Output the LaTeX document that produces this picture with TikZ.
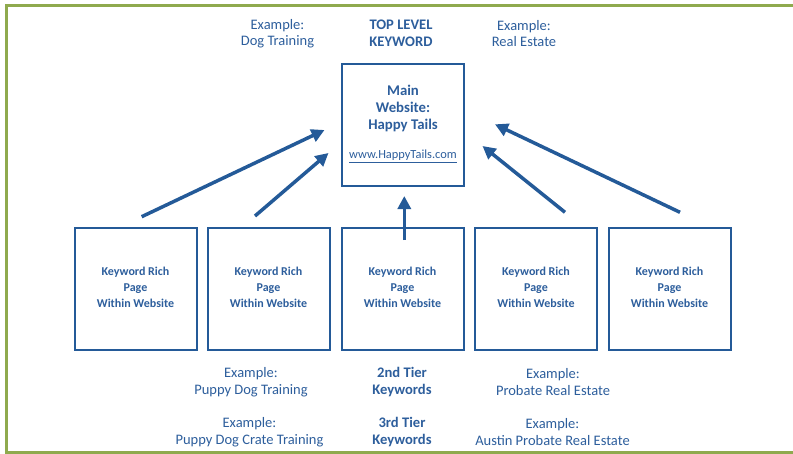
\documentclass[tikz,border=0pt]{standalone}
\usepackage{fontspec}
\setmainfont{Carlito}
\usetikzlibrary{arrows.meta}
\definecolor{kblue}{HTML}{245A98}
\definecolor{ktext}{HTML}{2D5E9C}
\definecolor{kgreen}{HTML}{8FAA4E}
\begin{document}
\begin{tikzpicture}[x=1pt,y=-1pt,
  pagebox/.style={draw=kblue,line width=2pt,minimum width=122pt,minimum height=122pt,inner sep=0pt},
  pagetxt/.style={text=ktext,font=\fontsize{12}{16}\selectfont\bfseries,align=center,inner sep=0pt},
  exmp/.style={text=ktext,font=\fontsize{14.5}{16.5}\selectfont,align=center,inner sep=0pt},
  tier/.style={text=ktext,font=\fontsize{14.6}{16.5}\selectfont\bfseries,align=center,inner sep=0pt},
  linkarrow/.style={draw=kblue,line width=3.5pt,-{Triangle[length=13pt,width=13pt]}}]
\useasboundingbox (0,0) rectangle (793,453);
\draw[kgreen,line width=3pt] (6.5,5.5) rectangle (830,452.5);
% main box
\node[pagebox] (main) at (403,124.5) {};
\node[tier,font=\fontsize{14.8}{17}\selectfont\bfseries] (maintxt) at (403,108) {Main\\Website:\\Happy Tails};
\node[text=ktext,font=\fontsize{12.4}{14}\selectfont,inner sep=0pt] (url) at (403,156.5) {\underline{www.HappyTails.com}};
% top labels
\node[exmp] (ex1) at (277.5,33.5) {Example:\\Dog Training};
\node[tier] (top) at (401,33.5) {TOP LEVEL\\KEYWORD};
\node[exmp] (ex2) at (524,33.5) {Example:\\Real Estate};
% keyword pages
\foreach \n/\x in {k1/135.5,k2/268.5,k3/402.5,k4/536,k5/669.5}{
  \node[pagebox] (\n) at (\x,288.5) {};
  \node[pagetxt] (\n t) at (\x,287.5) {Keyword Rich\\Page\\Within Website};
}
% bottom labels
\node[exmp] (ex3) at (251,382) {Example:\\Puppy Dog Training};
\node[tier] (t2) at (402,382) {2nd Tier\\Keywords};
\node[exmp] (ex4) at (553,382) {Example:\\Probate Real Estate};
\node[exmp] (ex5) at (249.5,432) {Example:\\Puppy Dog Crate Training};
\node[tier] (t3) at (402,432) {3rd Tier\\Keywords};
\node[exmp] (ex6) at (552.5,432) {Example:\\Austin Probate Real Estate};
% arrows
\coordinate (a1s) at (141.7,216.7); \coordinate (a1e) at (324.5,130);
\coordinate (a2s) at (255,216);     \coordinate (a2e) at (328.5,153);
\coordinate (a3s) at (404.3,240);   \coordinate (a3e) at (404.3,196);
\coordinate (a4s) at (565,212.3);   \coordinate (a4e) at (482.5,146);
\coordinate (a5s) at (680,212.3);   \coordinate (a5e) at (495,124.3);
\foreach \i in {1,...,5}{\draw[linkarrow] (a\i s) -- (a\i e);}
\end{tikzpicture}
\end{document}
